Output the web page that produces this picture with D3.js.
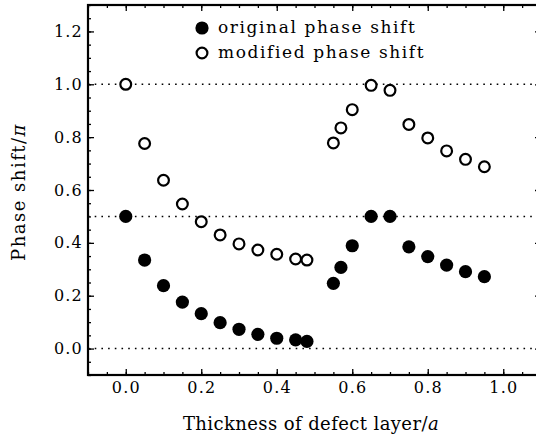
<!DOCTYPE html>
<html>
<head>
<meta charset="utf-8">
<script src="https://cdn.jsdelivr.net/npm/d3@7"></script>
<style>
  body { margin: 0; background: #fff; }
  text { font-family: "DejaVu Serif", serif; fill: #000; }
</style>
</head>
<body>
<div class="chart"></div>
<script>
// thickness of defect layer (units of a)
var thickness = [0.0, 0.05, 0.1, 0.15, 0.2, 0.25, 0.3, 0.35, 0.4, 0.45, 0.48,
  0.55, 0.57, 0.6, 0.65, 0.7, 0.75, 0.8, 0.85, 0.9, 0.95];
// phase shift / pi
var originalShift = [0.5, 0.335, 0.238, 0.176, 0.132, 0.098, 0.073, 0.054, 0.039, 0.033, 0.027,
  0.247, 0.307, 0.389, 0.5, 0.5, 0.385, 0.348, 0.316, 0.291, 0.272];
var modifiedShift = [1.0, 0.776, 0.637, 0.547, 0.48, 0.43, 0.396, 0.373, 0.357, 0.339, 0.335,
  0.778, 0.835, 0.904, 0.996, 0.977, 0.848, 0.797, 0.748, 0.716, 0.688];
var xTicks = [0.0, 0.2, 0.4, 0.6, 0.8, 1.0];
var yTicks = [0.0, 0.2, 0.4, 0.6, 0.8, 1.0, 1.2];
var refLines = [0.0, 0.5, 1.0];
var legendLabels = ["original phase shift", "modified phase shift"];

var svgWidth = 536;
var svgHeight = 441;

var svg = d3.select(".chart")
  .append("svg")
  .attr("width", svgWidth)
  .attr("height", svgHeight);

var xScale = d3.scaleLinear().domain([-0.1, 1.1]).range([88, 541]);
var yScale = d3.scaleLinear().domain([-0.1, 1.3]).range([375, 5]);

var x0 = xScale(-0.1), x1 = xScale(1.1);
var y0 = yScale(-0.1), y1 = yScale(1.3);

// dotted reference lines
svg.selectAll(".ref")
  .data(refLines)
  .enter()
  .append("line")
  .attr("x1", x0).attr("x2", x1)
  .attr("y1", d => yScale(d)).attr("y2", d => yScale(d))
  .attr("stroke", "#000")
  .attr("stroke-width", 1.6)
  .attr("stroke-dasharray", "1.6,5.1");

// ticks pointing inward on all four sides: minor every 0.05, major every 0.2
var xMinor = d3.range(-0.1, 1.1001, 0.05);
var yMinor = d3.range(-0.1, 1.3001, 0.05);

function addTicks(axis, translate, vals, size) {
  svg.append("g")
    .attr("transform", translate)
    .call(axis.tickValues(vals).tickSize(size).tickFormat(""))
    .call(g => g.select(".domain").remove())
    .selectAll("line").attr("stroke-width", 1.3);
}

addTicks(d3.axisTop(xScale), `translate(0, ${y0})`, xMinor, 3);
addTicks(d3.axisBottom(xScale), `translate(0, ${y1})`, xMinor, 3);
addTicks(d3.axisRight(yScale), `translate(${x0}, 0)`, yMinor, 3);
addTicks(d3.axisLeft(yScale), `translate(${x1}, 0)`, yMinor, 3);

addTicks(d3.axisTop(xScale), `translate(0, ${y0})`, xTicks, 6);
addTicks(d3.axisBottom(xScale), `translate(0, ${y1})`, xTicks, 6);
addTicks(d3.axisRight(yScale), `translate(${x0}, 0)`, yTicks, 6);
addTicks(d3.axisLeft(yScale), `translate(${x1}, 0)`, yTicks, 6);

// tick labels
svg.selectAll(".xlabel")
  .data(xTicks)
  .enter()
  .append("text")
  .attr("x", d => xScale(d) + 0.6)
  .attr("y", y0 + 18)
  .attr("text-anchor", "middle")
  .style("font-size", "16px")
  .style("letter-spacing", "1.2px")
  .text(d => d.toFixed(1));

svg.selectAll(".ylabel")
  .data(yTicks)
  .enter()
  .append("text")
  .attr("x", x0 - 5)
  .attr("y", d => yScale(d) + 5.5)
  .attr("text-anchor", "end")
  .style("font-size", "16px")
  .style("letter-spacing", "1.2px")
  .text(d => d.toFixed(1));

// frame
svg.append("rect")
  .attr("x", x0).attr("y", y1)
  .attr("width", x1 - x0).attr("height", y0 - y1)
  .attr("fill", "none")
  .attr("stroke", "#000")
  .attr("stroke-width", 2.2);

// data points
svg.selectAll(".orig")
  .data(thickness)
  .enter()
  .append("circle")
  .attr("cx", d => xScale(d))
  .attr("cy", (d, i) => yScale(originalShift[i]))
  .attr("r", 6.6)
  .attr("fill", "#000");

svg.selectAll(".mod")
  .data(thickness)
  .enter()
  .append("circle")
  .attr("cx", d => xScale(d))
  .attr("cy", (d, i) => yScale(modifiedShift[i]))
  .attr("r", 5.4)
  .attr("fill", "#fff")
  .attr("stroke", "#000")
  .attr("stroke-width", 2.2);

// legend
var legend = svg.append("g").attr("transform", "translate(202, 28)");
legend.append("circle").attr("cx", 0).attr("cy", 0).attr("r", 6.6).attr("fill", "#000");
legend.append("circle").attr("cx", 0).attr("cy", 25).attr("r", 5.4)
  .attr("fill", "#fff").attr("stroke", "#000").attr("stroke-width", 2.2);
legend.selectAll("text")
  .data(legendLabels)
  .enter()
  .append("text")
  .attr("x", 16)
  .attr("y", (d, i) => i * 25 + 5)
  .style("font-size", "17px")
  .style("letter-spacing", "1.6px")
  .text(d => d);

// axis titles
var xTitle = svg.append("text")
  .attr("x", 311)
  .attr("y", 430)
  .attr("text-anchor", "middle")
  .style("font-size", "18px")
  .style("letter-spacing", "0.4px");
xTitle.append("tspan").text("Thickness of defect layer/");
xTitle.append("tspan").style("font-style", "italic").text("a");

var yTitle = svg.append("text")
  .attr("transform", "translate(25, 192) rotate(-90)")
  .attr("text-anchor", "middle")
  .style("font-size", "18px")
  .style("letter-spacing", "1.5px");
yTitle.append("tspan").text("Phase shift/");
yTitle.append("tspan").style("font-style", "italic").text("π");
</script>
</body>
</html>
